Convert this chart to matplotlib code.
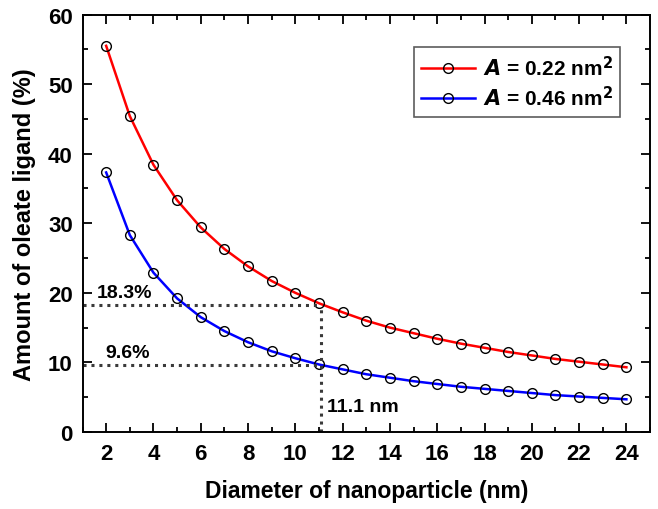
import matplotlib
matplotlib.use("Agg")
import matplotlib.pyplot as plt
from matplotlib.ticker import MultipleLocator

plt.rcParams['font.family'] = ['Liberation Sans', 'DejaVu Sans']
plt.rcParams['font.weight'] = 'bold'
plt.rcParams['mathtext.default'] = 'regular'

diameter = [2, 3, 4, 5, 6, 7, 8, 9, 10, 11, 12, 13, 14, 15, 16, 17, 18, 19, 20, 21, 22, 23, 24]
amount_022 = [55.5, 45.4, 38.4, 33.3, 29.4, 26.3, 23.8, 21.7, 20.0, 18.5, 17.2, 16.0, 15.0,
              14.2, 13.4, 12.7, 12.1, 11.5, 11.0, 10.5, 10.1, 9.7, 9.3]
amount_046 = [37.3, 28.3, 22.9, 19.2, 16.5, 14.5, 12.9, 11.6, 10.6, 9.7, 9.0, 8.3, 7.8,
              7.3, 6.9, 6.5, 6.2, 5.9, 5.6, 5.3, 5.1, 4.9, 4.7]
mark_d = 11.1
mark_hi = 18.3
mark_lo = 9.6

fig = plt.figure(figsize=(6.58, 5.10), dpi=100)
ax = fig.add_axes([0.1254, 0.151, 0.8625, 0.8186])

ax.plot(diameter, amount_022, color='red', lw=1.8, marker='o', ms=7, mfc='none',
        mec='black', mew=1.0, label=r'$\mathbf{\it{A}}$ = 0.22 nm$^\mathbf{2}$')
ax.plot(diameter, amount_046, color='blue', lw=1.8, marker='o', ms=7, mfc='none',
        mec='black', mew=1.0, label=r'$\mathbf{\it{A}}$ = 0.46 nm$^\mathbf{2}$')

dot = dict(color='#3a3a3a', ls=(0, (1, 1.6)), lw=2.2)
ax.plot([1, mark_d], [mark_hi, mark_hi], **dot)
ax.plot([1, mark_d], [mark_lo, mark_lo], **dot)
ax.plot([mark_d, mark_d], [0, mark_hi], **dot)

ax.text(1.6, 19.4, f'{mark_hi}%', fontsize=14, fontweight='bold')
ax.text(1.95, 10.8, f'{mark_lo}%', fontsize=14, fontweight='bold')
ax.text(11.35, 3.0, f'{mark_d} nm', fontsize=14, fontweight='bold')

ax.set_xlim(1, 25)
ax.set_ylim(0, 60)
ax.xaxis.set_major_locator(MultipleLocator(2))
ax.xaxis.set_minor_locator(MultipleLocator(1))
ax.yaxis.set_major_locator(MultipleLocator(10))
ax.yaxis.set_minor_locator(MultipleLocator(5))
ax.set_xticks(range(2, 25, 2))
ax.tick_params(which='both', direction='in', top=True, right=True, width=1.3)
ax.tick_params(which='major', length=6.5, labelsize=16)
ax.tick_params(axis='x', which='major', pad=8)
ax.tick_params(axis='y', which='major', pad=7)
ax.tick_params(which='minor', length=3.5)
for lab in ax.get_xticklabels() + ax.get_yticklabels():
    lab.set_fontweight('bold')
for s in ax.spines.values():
    s.set_linewidth(1.4)

ax.set_xlabel('Diameter of nanoparticle (nm)', fontsize=16.5, fontweight='bold', labelpad=11)
ax.set_ylabel('Amount of oleate ligand (%)', fontsize=17, fontweight='bold', labelpad=9)

leg = ax.legend(loc='upper right', bbox_to_anchor=(0.947, 0.922), fontsize=15, frameon=True,
                fancybox=False, edgecolor='#333333', handlelength=2.6, borderpad=0.35,
                labelspacing=0.3, handletextpad=0.35, borderaxespad=0)
leg.get_frame().set_linewidth(1.2)
for t in leg.get_texts():
    t.set_fontweight('bold')

fig.savefig('out.png', dpi=100)
